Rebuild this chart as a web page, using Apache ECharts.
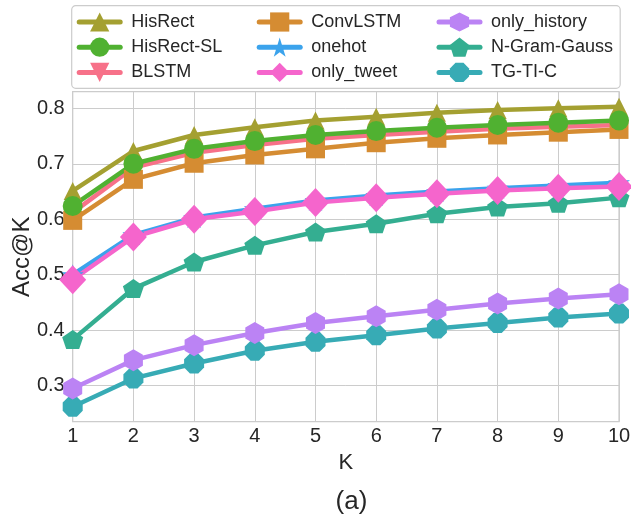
<!DOCTYPE html>
<html>
<head>
<meta charset="utf-8">
<script src="https://cdn.jsdelivr.net/npm/echarts@6/dist/echarts.min.js"></script>
<style>
html,body{margin:0;padding:0;background:#fff;}
#chart{width:631px;height:516px;}
</style>
</head>
<body>
<div id="chart"></div>
<script>
// ---- data ----
const kValues = [1, 2, 3, 4, 5, 6, 7, 8, 9, 10];
const yTicks = [0.3, 0.4, 0.5, 0.6, 0.7, 0.8];
const HisRect      = [0.651, 0.723, 0.752, 0.766, 0.778, 0.785, 0.792, 0.797, 0.800, 0.803];
const HisRectSL    = [0.624, 0.700, 0.727, 0.741, 0.752, 0.759, 0.765, 0.770, 0.774, 0.778];
const BLSTM        = [0.612, 0.693, 0.720, 0.734, 0.745, 0.752, 0.758, 0.763, 0.767, 0.770];
const ConvLSTM     = [0.598, 0.672, 0.701, 0.716, 0.727, 0.738, 0.746, 0.752, 0.757, 0.762];
const onehot       = [0.500, 0.572, 0.603, 0.619, 0.634, 0.643, 0.650, 0.656, 0.661, 0.666];
const only_tweet   = [0.491, 0.568, 0.600, 0.614, 0.630, 0.639, 0.646, 0.652, 0.656, 0.659];
const only_history = [0.295, 0.346, 0.373, 0.395, 0.413, 0.425, 0.437, 0.448, 0.457, 0.465];
const NGramGauss   = [0.383, 0.475, 0.523, 0.553, 0.577, 0.592, 0.610, 0.622, 0.629, 0.639];
const TGTIC        = [0.262, 0.313, 0.340, 0.363, 0.379, 0.391, 0.403, 0.413, 0.423, 0.430];

// ---- styles ----
const SYM = {
  triDown: 'path://M0,0L200,0L100,200Z',
  star: 'path://M0,-100L22.45,-30.9L95.11,-30.9L36.33,11.8L58.78,80.9L0,38.2L-58.78,80.9L-36.33,11.8L-95.11,-30.9L-22.45,-30.9Z',
  hexagon: 'path://M0,-100L86.6,-50L86.6,50L0,100L-86.6,50L-86.6,-50Z',
  pentagon: 'path://M0,-100L95.11,-30.9L58.78,80.9L-58.78,80.9L-95.11,-30.9Z',
  octagon: 'path://M92.4,38.3L38.3,92.4L-38.3,92.4L-92.4,38.3L-92.4,-38.3L-38.3,-92.4L38.3,-92.4L92.4,-38.3Z'
};
// drawing order (later on top)
const seriesDefs = [
  {name: 'BLSTM',        data: BLSTM,        color: '#f77189', symbol: SYM.triDown,  size: [18, 18]},
  {name: 'ConvLSTM',     data: ConvLSTM,     color: '#d58c32', symbol: 'rect',       size: [19, 19]},
  {name: 'HisRect',      data: HisRect,      color: '#a4a031', symbol: 'triangle',   size: [18, 18]},
  {name: 'HisRect-SL',   data: HisRectSL,    color: '#50b131', symbol: 'circle',     size: 20},
  {name: 'N-Gram-Gauss', data: NGramGauss,   color: '#34ae91', symbol: SYM.pentagon, size: [21, 19]},
  {name: 'TG-TI-C',      data: TGTIC,        color: '#37abb5', symbol: SYM.octagon,  size: [20, 20]},
  {name: 'onehot',       data: onehot,       color: '#3ba3ec', symbol: SYM.star,     size: [22, 21]},
  {name: 'only_history', data: only_history, color: '#bb83f4', symbol: SYM.hexagon,  size: [19, 22]},
  {name: 'only_tweet',   data: only_tweet,   color: '#f565cc', symbol: 'diamond',    size: [27, 29]}
];
const legendCols = [
  ['HisRect', 'HisRect-SL', 'BLSTM'],
  ['ConvLSTM', 'onehot', 'only_tweet'],
  ['only_history', 'N-Gram-Gauss', 'TG-TI-C']
];
const legendLeft = [76.7, 256.7, 436.5];

const TXT = '#262626';
const GRIDC = '#cccccc';
const FONT = 'Liberation Sans, Arial, sans-serif';

const chart = echarts.init(document.getElementById('chart'), null, {renderer: 'canvas'});

const series = seriesDefs.map(d => ({
  name: d.name,
  type: 'line',
  data: kValues.map((k, i) => [k, d.data[i]]),
  symbol: d.symbol,
  symbolSize: d.size,
  showAllSymbol: true,
  clip: false,
  color: d.color,
  itemStyle: {color: d.color, borderWidth: 0},
  lineStyle: {color: d.color, width: 4.5, cap: 'round', join: 'round'},
  emphasis: {disabled: true},
  animation: false
}));

const legends = legendCols.map((col, i) => ({
  data: col,
  orient: 'vertical',
  left: legendLeft[i],
  top: 12.4,
  padding: 0,
  itemWidth: 41,
  itemHeight: 24,
  itemGap: 6,
  selectedMode: false,
  textStyle: {color: TXT, fontSize: 18, fontFamily: FONT, padding: [0, 0, 0, 6]},
  lineStyle: {width: 5, cap: 'round'}
}));

chart.setOption({
  backgroundColor: '#ffffff',
  animation: false,
  textStyle: {fontFamily: FONT},
  title: {
    text: '(a)',
    left: 346.5,
    top: 484,
    textAlign: 'center',
    textStyle: {color: TXT, fontSize: 26, fontWeight: 'normal', fontFamily: FONT}
  },
  graphic: [{
    type: 'rect',
    z: 0,
    shape: {x: 71.7, y: 5.7, width: 548.5, height: 82.6, r: 4},
    style: {fill: 'rgba(255,255,255,0.8)', stroke: GRIDC, lineWidth: 1.2}
  }],
  legend: legends,
  grid: {
    left: 72.7, right: 12, top: 91.7, bottom: 94.3,
    show: true, borderColor: GRIDC, borderWidth: 1.25, backgroundColor: 'transparent',
    containLabel: false,
    outerBoundsMode: 'none'
  },
  xAxis: {
    type: 'value',
    min: 1, max: 10, interval: 1,
    name: 'K',
    nameLocation: 'middle',
    nameGap: 30,
    nameMoveOverlap: false,
    nameTextStyle: {color: TXT, fontSize: 22, fontFamily: FONT},
    axisLine: {show: false},
    axisTick: {show: false},
    axisLabel: {color: TXT, fontSize: 20, fontFamily: FONT, margin: 5},
    splitLine: {show: true, lineStyle: {color: GRIDC, width: 1}}
  },
  yAxis: {
    type: 'value',
    min: 0.235, max: 0.83,
    splitNumber: 5,
    name: 'Acc@K',
    nameLocation: 'middle',
    nameGap: 38,
    nameMoveOverlap: false,
    nameTextStyle: {color: TXT, fontSize: 24, fontFamily: FONT},
    axisLine: {show: false},
    axisTick: {show: false},
    axisLabel: {
      color: TXT, fontSize: 20, fontFamily: FONT, margin: 8,
      showMinLabel: false, showMaxLabel: false,
      formatter: v => {
        const hit = yTicks.find(t => Math.abs(t - v) < 1e-6);
        return hit === undefined ? '' : hit.toFixed(1);
      }
    },
    splitLine: {show: true, lineStyle: {color: GRIDC, width: 1}}
  },
  series: series
});
</script>
</body>
</html>
